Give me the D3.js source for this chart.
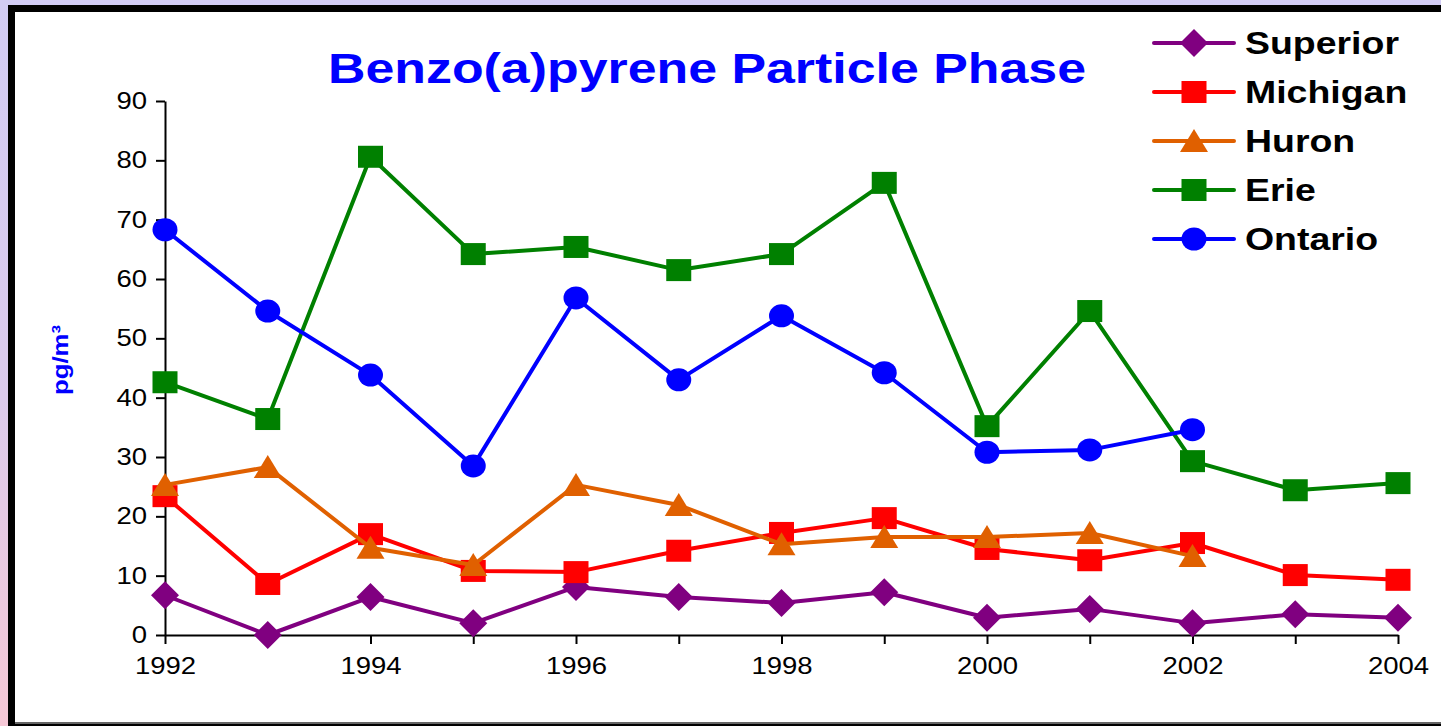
<!DOCTYPE html>
<html>
<head>
<meta charset="UTF-8">
<title>Benzo(a)pyrene Particle Phase</title>
<script src="https://d3js.org/d3.v7.min.js"></script>
<style>
  body {margin: 0; overflow: hidden; background: #d2ccf4;}
  svg {display: block;}
  text {font-family: "Liberation Sans", Arial, sans-serif;}
  .axis path, .axis line {stroke: black; stroke-width: 2px;}
  .axis text {font-size: 23.5px; fill: black;}
</style>
</head>
<body>
<div id="chart"></div>
<script>
var years = [1992, 1993, 1994, 1995, 1996, 1997, 1998, 1999, 2000, 2001, 2002, 2003, 2004];
var yTicks = [0, 10, 20, 30, 40, 50, 60, 70, 80, 90];
var xTicks = [1992, 1994, 1996, 1998, 2000, 2002, 2004];

var superior = [6.7, 0, 6.4, 2.0, 8.1, 6.4, 5.4, 7.2, 2.9, 4.4, 2.0, 3.5, 2.9];
var michigan = [23.4, 8.6, 17.0, 10.8, 10.6, 14.2, 17.2, 19.7, 14.5, 12.6, 15.5, 10.1, 9.3];
var huron = [25.3, 28.3, 14.7, 11.8, 25.3, 21.9, 15.3, 16.5, 16.5, 17.2, 13.3];
var erie = [42.6, 36.4, 80.6, 64.2, 65.4, 61.5, 64.2, 76.2, 35.2, 54.6, 29.3, 24.4, 25.6];
var ontario = [68.3, 54.6, 43.8, 28.5, 56.8, 43.0, 53.8, 44.2, 30.8, 31.2, 34.6];

var series = [
  {name: "Superior", values: superior, color: "#800080", shape: "diamond"},
  {name: "Michigan", values: michigan, color: "#ff0000", shape: "square"},
  {name: "Huron", values: huron, color: "#e06000", shape: "triangle"},
  {name: "Erie", values: erie, color: "#008000", shape: "square"},
  {name: "Ontario", values: ontario, color: "#0000ff", shape: "circle"}
];

var W = 1441, H = 726;
var stretch = 1.17; // the picture's lettering is a bit wide
var svg = d3.select("#chart").append("svg").attr("width", W).attr("height", H);

// background frame
var defs = svg.append("defs");
var grad = defs.append("linearGradient").attr("id", "bgGrad").attr("x1", 0).attr("y1", 0).attr("x2", 0).attr("y2", 1);
grad.append("stop").attr("offset", "0%").attr("stop-color", "#d2ccf4");
grad.append("stop").attr("offset", "55%").attr("stop-color", "#dccbec");
grad.append("stop").attr("offset", "100%").attr("stop-color", "#f6c8d6");
svg.append("rect").attr("width", W).attr("height", H).attr("fill", "#d2ccf4");
svg.append("rect").attr("width", W).attr("height", H).attr("fill", "url(#bgGrad)");
svg.append("rect").attr("x", 8).attr("y", 5).attr("width", W).attr("height", H).attr("fill", "black");
svg.append("rect").attr("x", 15).attr("y", 12).attr("width", W).attr("height", 710).attr("fill", "white");
svg.append("rect").attr("x", 15).attr("y", 722).attr("width", W).attr("height", 2).attr("fill", "#666");

var x = d3.scaleLinear().domain([1992, 2004]).range([165, 1398]);
var y = d3.scaleLinear().domain([0, 90]).range([635, 101]);

function widen(sel) {
  sel.each(function() {
    var t = d3.select(this);
    if (!t.text()) return;
    var len = this.getComputedTextLength();
    t.attr("textLength", len * stretch).attr("lengthAdjust", "spacingAndGlyphs");
  });
}

var xAxis = svg.append("g").attr("class", "axis")
  .attr("transform", "translate(0,635)")
  .call(d3.axisBottom(x).tickValues(years).tickSize(9).tickFormat(function(d) {
    return xTicks.indexOf(d) >= 0 ? d : "";
  }).tickSizeOuter(0).tickPadding(13));

var yAxis = svg.append("g").attr("class", "axis")
  .attr("transform", "translate(165,0)")
  .call(d3.axisLeft(y).tickValues(yTicks).tickSize(9).tickSizeOuter(0).tickPadding(9));

widen(xAxis.selectAll("text"));
widen(yAxis.selectAll("text"));

// title
svg.append("text")
  .attr("x", 707).attr("y", 83)
  .attr("text-anchor", "middle")
  .attr("fill", "#0000ff")
  .attr("font-weight", "bold")
  .attr("font-size", 43)
  .attr("textLength", 758)
  .attr("lengthAdjust", "spacingAndGlyphs")
  .text("Benzo(a)pyrene Particle Phase");

// y label
svg.append("text")
  .attr("transform", "translate(68,360) rotate(-90)")
  .attr("text-anchor", "middle")
  .attr("fill", "#0000ff")
  .attr("font-weight", "bold")
  .attr("font-size", 22)
  .attr("textLength", 70)
  .attr("lengthAdjust", "spacingAndGlyphs")
  .text("pg/m³");

function marker(sel, shape, color) {
  if (shape === "circle") {
    sel.append("ellipse").attr("rx", 12.5).attr("ry", 11.5).attr("fill", color);
  } else if (shape === "square") {
    sel.append("rect").attr("x", -12.5).attr("y", -11).attr("width", 25).attr("height", 22).attr("fill", color);
  } else if (shape === "diamond") {
    sel.append("path").attr("d", "M0,-14L14,0L0,14L-14,0Z").attr("fill", color);
  } else {
    sel.append("path").attr("d", "M0,-12L14,11L-14,11Z").attr("fill", color);
  }
}

var line = d3.line().x(function(d, i) { return x(years[i]); }).y(function(d) { return y(d); });

series.forEach(function(s) {
  var g = svg.append("g");
  g.append("path").datum(s.values)
    .attr("d", line)
    .attr("fill", "none")
    .attr("stroke", s.color)
    .attr("stroke-width", 4)
    .attr("stroke-linejoin", "round");
  g.selectAll("g.pt").data(s.values).enter().append("g")
    .attr("class", "pt")
    .attr("transform", function(d, i) { return "translate(" + x(years[i]) + "," + y(d) + ")"; })
    .each(function() { marker(d3.select(this), s.shape, s.color); });
});

// legend
var legend = svg.append("g");
series.forEach(function(s, i) {
  var ly = 43 + i * 49;
  var lg = legend.append("g").attr("transform", "translate(0," + ly + ")");
  lg.append("line").attr("x1", 1154).attr("x2", 1234).attr("y1", 0).attr("y2", 0)
    .attr("stroke", s.color).attr("stroke-width", 4).attr("stroke-linecap", "round");
  marker(lg.append("g").attr("transform", "translate(1194,0)"), s.shape, s.color);
  var t = lg.append("text").attr("x", 1245).attr("y", 11)
    .attr("font-weight", "bold").attr("font-size", 32).attr("fill", "black")
    .text(s.name);
  widen(t);
});
</script>
</body>
</html>
